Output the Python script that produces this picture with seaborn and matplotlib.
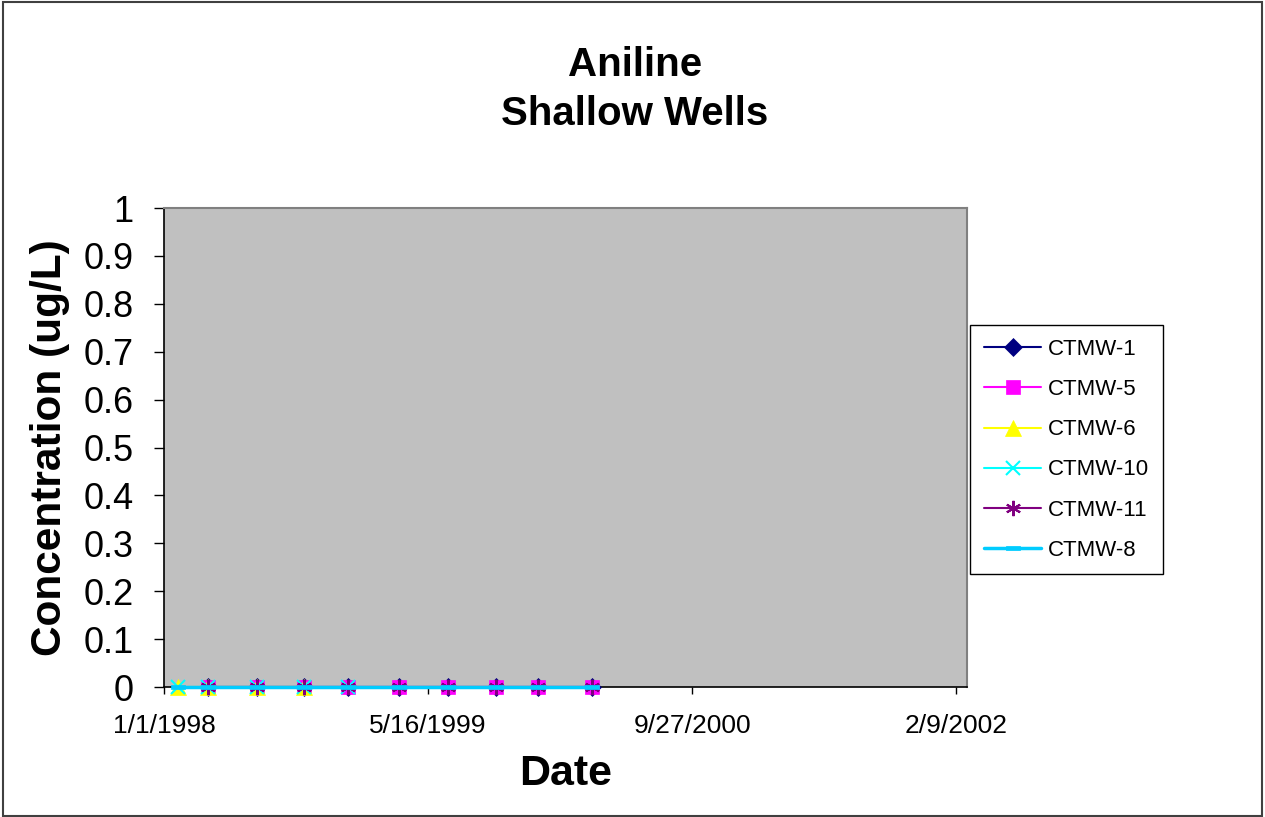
import numpy as np
import pandas as pd
import seaborn as sns
import matplotlib.pyplot as plt
from matplotlib.patches import Rectangle

# sampling dates
dates = ["1998-01-28", "1998-03-25", "1998-06-26", "1998-09-23", "1998-12-16",
         "1999-03-23", "1999-06-23", "1999-09-22", "1999-12-10", "2000-03-22"]

# concentrations, ug/L (None = not sampled)
ctmw_1 = [None, 0, 0, 0, 0, 0, 0, 0, 0, 0]
ctmw_5 = [None, 0, 0, 0, 0, 0, 0, 0, 0, 0]
ctmw_6 = [0, 0, 0, 0, None, None, None, None, None, None]
ctmw_10 = [0, 0, 0, 0, 0, None, None, None, None, None]
ctmw_11 = [None, 0, 0, 0, 0, 0, 0, 0, 0, 0]
ctmw_8 = [0, 0, 0, 0, 0, 0, 0, 0, 0, 0]

wells = ["CTMW-1", "CTMW-5", "CTMW-6", "CTMW-10", "CTMW-11", "CTMW-8"]
values = [ctmw_1, ctmw_5, ctmw_6, ctmw_10, ctmw_11, ctmw_8]

x_ticks = ["1998-01-01", "1999-05-16", "2000-09-27", "2002-02-09"]
x_ticklabels = ["1/1/1998", "5/16/1999", "9/27/2000", "2/9/2002"]
y_ticklabels = ["0", "0.1", "0.2", "0.3", "0.4", "0.5", "0.6", "0.7", "0.8", "0.9", "1"]

colors = {"CTMW-1": "#000080", "CTMW-5": "#FF00FF", "CTMW-6": "#FFFF00",
          "CTMW-10": "#00FFFF", "CTMW-11": "#800080", "CTMW-8": "#00CCFF"}
bar = [(-1, -0.35), (1, -0.35), (1, 0.35), (-1, 0.35), (-1, -0.35)]
markers = {"CTMW-1": "D", "CTMW-5": "s", "CTMW-6": "^",
           "CTMW-10": "x", "CTMW-11": (6, 2, 0), "CTMW-8": bar}
msizes = {"CTMW-1": 9, "CTMW-5": 10.5, "CTMW-6": 11,
          "CTMW-10": 10, "CTMW-11": 11, "CTMW-8": 10}
lwidths = {"CTMW-1": 1.5, "CTMW-5": 1.5, "CTMW-6": 1.5,
           "CTMW-10": 1.5, "CTMW-11": 1.5, "CTMW-8": 2.5}

rows = []
for w, v in zip(wells, values):
    for d, c in zip(dates, v):
        if c is not None:
            rows.append((w, pd.Timestamp(d), c))
df = pd.DataFrame(rows, columns=["Well", "Date", "Conc"])

sns.set_style("white")
plt.rcParams["font.family"] = ["Liberation Sans", "DejaVu Sans"]
plt.rcParams["text.color"] = "black"
plt.rcParams["xtick.color"] = "black"
plt.rcParams["ytick.color"] = "black"

fig = plt.figure(figsize=(12.65, 8.17), dpi=100)
ax = fig.add_axes([0.1296, 0.1591, 0.6346, 0.5863])
ax.set_facecolor("#C0C0C0")

for w in wells:
    sub = df[df["Well"] == w]
    unfilled = w in ("CTMW-10", "CTMW-11")
    sns.lineplot(data=sub, x="Date", y="Conc", ax=ax, color=colors[w],
                 marker=markers[w], markersize=msizes[w], linewidth=lwidths[w],
                 markeredgecolor=colors[w], markeredgewidth=1.5 if unfilled else 0.5,
                 label=w, clip_on=False, zorder=3)

ax.set_xlim(pd.Timestamp("1998-01-01"), pd.Timestamp("1998-01-01") + pd.Timedelta(days=1520))
ax.set_ylim(0, 1)
ax.set_xticks([pd.Timestamp(t) for t in x_ticks])
ax.set_xticklabels(x_ticklabels, fontsize=19)
ax.set_yticks(np.round(np.arange(0, 1.01, 0.1), 1))
ax.set_yticklabels(y_ticklabels, fontsize=26)
ax.tick_params(axis="both", direction="out", width=1, color="black",
               left=True, bottom=True)
ax.tick_params(axis="x", length=5, pad=14.5)
ax.tick_params(axis="y", length=7.5, pad=14.5)

for side in ["left", "bottom"]:
    ax.spines[side].set_color("black")
    ax.spines[side].set_linewidth(1.2)
for side in ["top", "right"]:
    ax.spines[side].set_color("#808080")
    ax.spines[side].set_linewidth(1.5)

ax.set_xlabel("")
ax.set_ylabel("")
fig.text(566 / 1265, 1 - 774 / 817, "Date", fontsize=31, fontweight="bold",
         ha="center", va="center")
fig.text(50 / 1265, 1 - 448 / 817, "Concentration (ug/L)", fontsize=30.5,
         fontweight="bold", rotation=90, ha="center", va="center")
fig.text(635 / 1265, 1 - 65 / 817, "Aniline", fontsize=29, fontweight="bold",
         ha="center", va="center")
fig.text(635 / 1265, 1 - 114 / 817, "Shallow Wells", fontsize=29, fontweight="bold",
         ha="center", va="center")

leg = ax.legend(loc="center left", bbox_to_anchor=(1.004, 0.495), fontsize=16,
                frameon=True, fancybox=False, edgecolor="black", framealpha=1,
                handlelength=2.6, labelspacing=0.86, borderpad=0.62, handletextpad=0.28,
                borderaxespad=0)
leg.get_frame().set_linewidth(1)

fig.patches.append(Rectangle((0.002, 0.001), 0.996, 0.997, transform=fig.transFigure,
                             fill=False, edgecolor="#404040", linewidth=1.5))

fig.savefig("out.png", dpi=100)
